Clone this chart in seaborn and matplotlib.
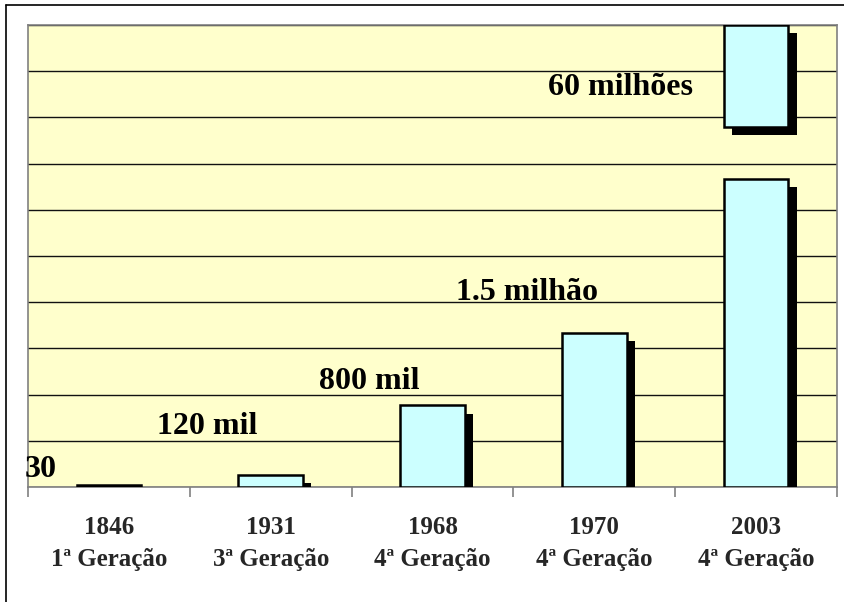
import matplotlib
matplotlib.use("Agg")
import matplotlib.pyplot as plt
import matplotlib.patheffects as pe
from matplotlib.lines import Line2D
import seaborn as sns
import pandas as pd

# ---- data (chart units; gridline = 1 unit) ----
years = ["1846", "1931", "1968", "1970", "2003"]
generations = ["1ª Geração", "3ª Geração", "4ª Geração", "4ª Geração", "4ª Geração"]
bar_heights = [0.04, 0.26, 1.77, 3.34, 6.67]
value_labels = ["30", "120 mil", "800 mil", "1.5 milhão", "60 milhões"]
# broken top segment of the last bar
break_index = 4
break_bottom = 7.79
break_top = 10.0
y_max = 10
# label anchor positions (x in category units, y in chart units)
label_x = [-0.42, 0.608, 1.612, 2.585, 3.164]
label_y = [0.37, 1.30, 2.29, 4.22, 8.64]

sns.set_style("white")
plt.rcParams["font.family"] = ["Liberation Serif", "DejaVu Serif"]

fig = plt.figure(figsize=(8.44, 6.02), dpi=100)
W, H = 844, 602
ax = fig.add_axes([28 / W, 1 - 487 / H, (837 - 28) / W, (487 - 25) / H])
ax.set_facecolor("#FFFFCC")

cats = [f"{y}\n{g}" for y, g in zip(years, generations)]
df = pd.DataFrame({"cat": cats, "h": bar_heights})

shadow = [pe.SimplePatchShadow(offset=(6, -6), shadow_rgbFace="black", alpha=1.0), pe.Normal()]

sns.barplot(data=df, x="cat", y="h", order=cats, color="#CCFFFF", saturation=1,
            width=0.4, edgecolor="black", linewidth=1.8, ax=ax, zorder=3)
for p in ax.patches:
    p.set_path_effects(shadow)

top = ax.bar([break_index], [break_top - break_bottom], bottom=[break_bottom], width=0.4,
             color="#CCFFFF", edgecolor="black", linewidth=1.8, zorder=3)
for p in top:
    p.set_path_effects(shadow)

ax.set_xlim(-0.5, len(cats) - 0.5)
ax.set_ylim(0, y_max)

# gridlines
ax.set_yticks(range(0, y_max + 1))
ax.yaxis.grid(True, color="#111111", linewidth=1.0)
ax.set_axisbelow(True)
ax.tick_params(axis="y", left=False, labelleft=False)

# x ticks: marks at category boundaries, labels at centres
ax.set_xticks([i - 0.5 for i in range(len(cats) + 1)])
ax.set_xticklabels([])
ax.set_xticks(range(len(cats)), minor=True)
ax.set_xticklabels(cats, minor=True, fontsize=18, fontweight="bold", linespacing=1.5)
ax.tick_params(axis="x", which="major", direction="out", length=7, width=1.2, color="#808080", bottom=True)
ax.tick_params(axis="x", which="minor", length=0, pad=21)
ax.set_xlabel("")
ax.set_ylabel("")

for s in ax.spines.values():
    s.set_color("#808080")
    s.set_linewidth(1.2)

for t, x, y in zip(value_labels, label_x, label_y):
    ax.text(x, y, t, ha="center", va="center", fontsize=23, fontweight="bold",
            color="black", zorder=5, clip_on=False)

# outer frame
fig.add_artist(Line2D([6 / W, 6 / W], [0, 1 - 5 / H], transform=fig.transFigure, color="black", linewidth=1.2))
fig.add_artist(Line2D([6 / W, 1], [1 - 5 / H, 1 - 5 / H], transform=fig.transFigure, color="black", linewidth=1.2))

fig.savefig("out.png", dpi=100)
